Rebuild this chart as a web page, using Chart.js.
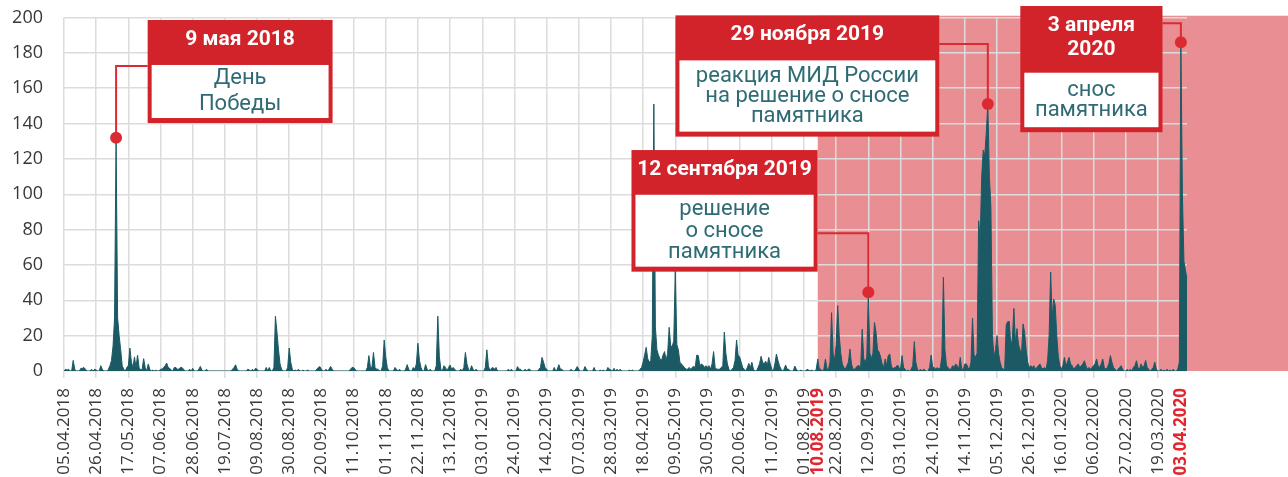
<!DOCTYPE html>
<html lang="ru">
<head>
<meta charset="utf-8">
<title>Упоминания памятника</title>
<script src="https://cdn.jsdelivr.net/npm/chart.js@4.4.1/dist/chart.umd.min.js"></script>
<style>
    html, body { margin: 0; padding: 0; background: #fff; }
    #chart { display: block; }
</style>
</head>
<body>
<canvas id="chart" width="1288" height="477"></canvas>
<script>
'use strict';

// ===== данные =====

const START_DATE = '2018-04-05';

// подписи оси X (каждые 21 день)
const TICK_LABELS = [
    '05.04.2018', '26.04.2018', '17.05.2018', '07.06.2018', '28.06.2018', '19.07.2018',
    '09.08.2018', '30.08.2018', '20.09.2018', '11.10.2018', '01.11.2018', '22.11.2018',
    '13.12.2018', '03.01.2019', '24.01.2019', '14.02.2019', '07.03.2019', '28.03.2019',
    '18.04.2019', '09.05.2019', '30.05.2019', '20.06.2019', '11.07.2019', '01.08.2019',
    '22.08.2019', '12.09.2019', '03.10.2019', '24.10.2019', '14.11.2019', '05.12.2019',
    '26.12.2019', '16.01.2020', '06.02.2020', '27.02.2020', '19.03.2020',
];

const HIGHLIGHT_LABELS = ['10.08.2019', '03.04.2020'];
const ZONE_START = '10.08.2019';

// значения по дням, одна строка = 21 день
const DAILY_VALUES = [
    0, 1, 0.5, 1, 0, 0, 6, 1, 0, 0, 0, 1.5, 1.5, 2, 1, 0, 0, 0, 1, 0, 1,
    0.5, 0, 0, 3, 1, 0, 0, 0, 1, 3, 6, 14, 30, 132, 30, 20, 12, 3, 1, 0, 2,
    3, 13, 5, 2, 8, 2, 9, 2, 0.5, 1, 7, 2, 0, 4, 1, 0, 0.5, 0, 0.5, 0, 0,
    1, 1, 2, 3, 4.5, 2, 1.5, 0.5, 0, 2, 2, 1, 1, 2, 2, 1, 0, 0, 0, 1, 0,
    1.5, 0, 0, 0, 1, 2.6, 0.5, 0, 0, 1, 0, 0, 0, 0, 0, 0, 0, 0, 0, 0, 0,
    0, 0, 0, 0, 0, 1, 2, 3.5, 1, 0, 0, 0, 0, 0, 0, 1, 0.5, 0, 1, 0, 1.5,
    1, 0, 0, 0, 0, 0, 2, 0, 2, 0, 0, 2, 31, 22, 12, 4, 1, 0, 0, 0, 2,
    13, 5, 1, 0, 0.5, 0, 1, 0, 0, 0.5, 0, 0, 0.5, 0, 0, 0, 0, 0, 1, 2, 2.5,
    1, 0, 0, 1, 0, 1, 2.6, 1, 0, 0, 0, 0, 0, 0, 0, 0, 0, 0, 0, 1, 2,
    2, 1, 0, 0, 0, 0, 0, 0, 0, 2, 8.7, 2, 2, 10.5, 2, 1, 1, 0, 0, 3, 17.5,
    8, 2, 0, 0, 0, 0, 2, 1, 0, 1, 0, 0, 0, 1, 3.6, 1, 0, 0, 2, 1, 4,
    15.7, 6, 2, 0, 0, 3.6, 1, 0, 1, 0, 0, 0, 3, 31, 8, 1, 0, 3, 2, 0, 2,
    3.4, 1, 2, 1, 0, 0, 0, 1, 0, 2, 10.5, 4, 1, 0, 3, 1, 0, 1, 0, 0, 0,
    0, 0, 2, 12, 3, 0, 1.5, 2, 1, 2, 0, 0, 0, 0, 0, 0, 0, 1, 0, 1, 0,
    0, 0, 2.5, 1, 1, 0, 0, 1, 0, 1, 1, 0, 0, 0, 0, 0, 1, 2, 7.7, 5, 2,
    1, 0, 0, 0, 0, 2, 0, 1, 3.6, 1, 1, 0, 0, 0, 0, 0, 1, 0, 0, 1, 2.5,
    1, 0, 0, 0, 2.5, 1, 0, 0, 0, 0, 2, 0, 0, 0, 0.5, 0, 0.5, 0, 0, 2, 1,
    0.5, 0, 1.5, 0, 1, 0, 1, 0, 0, 0, 0, 0, 0.5, 0, 0.5, 0, 0, 0, 0, 1, 2,
    5, 9, 13.4, 7, 5, 6, 20, 151, 25, 12, 9, 7, 6, 9, 11, 6, 10, 24.7, 14, 14, 17,
    58, 15, 12, 5, 4, 3, 2, 1, 1, 2, 1, 2, 2.6, 2, 9, 8.7, 3, 4, 3.4, 2, 3,
    2, 3, 1, 4, 11, 2, 1, 1, 1, 2, 3, 22, 10, 4, 1, 0, 1, 2, 6, 17.5, 9,
    8, 5, 2, 1, 0, 2, 4.3, 2, 4.9, 1, 0, 0, 2, 4, 8.3, 5, 4, 5.6, 3, 7.7, 4,
    1, 0, 4, 9.6, 6, 3, 1, 0, 1, 3.4, 1, 1, 0, 0, 0, 2.8, 1, 0, 0, 0.5, 0,
    0, 0, 1, 0.5, 0, 0.5, 0, 0, 1, 6.8, 1, 1, 0, 1, 6.8, 1, 1, 5, 33, 10, 6,
    15, 37, 20, 10, 4, 2, 1, 3, 5, 12.4, 4, 1, 1, 2, 3, 3, 2, 23.7, 7, 5, 8,
    44.6, 10, 7, 10, 27.5, 22, 12, 10.7, 8, 4, 2, 6.8, 3, 8.8, 9.6, 3, 1, 2, 2, 3.4, 2,
    1, 8.7, 2, 1, 0, 0.5, 0, 1, 3, 16.6, 5, 1, 0, 1, 0, 1, 0.5, 0, 0, 2, 9,
    2, 2, 1, 2, 1, 2, 8, 53, 12, 3, 2, 1, 1, 3, 2, 4, 3, 1, 7.7, 1, 1,
    4, 4, 2, 1, 5, 30, 9, 8, 10, 85, 75, 110, 125, 122, 135, 151, 110, 93, 20, 8, 12,
    20, 10, 5, 2, 1, 1, 26, 28, 28, 14, 18, 35.4, 16, 24, 15, 12, 10, 26.6, 22, 12, 5,
    2, 3, 2, 3, 1, 2, 3, 4, 2, 1, 2, 1, 5.8, 20, 56, 30, 40.7, 37, 20, 8, 3,
    1, 3, 7.7, 3, 5, 7.7, 4, 3, 1, 2, 3, 4, 2, 3, 4, 5.8, 3, 1, 2, 1, 2,
    3, 4, 6.8, 3, 2, 4, 6.8, 2, 1, 2, 4, 8.7, 5, 2, 1, 0, 1, 2, 3, 1, 0,
    0, 1, 0, 1, 0, 2, 3, 5.8, 2, 1, 4, 2, 3, 6, 2, 1, 0, 1, 2, 5, 1,
    0, 0, 1, 0, 0.5, 0, 1, 0, 0.5, 0, 1, 0, 0, 1, 5, 186, 100, 62, 57, 52,
];

// выноски
const NOTE_DATES  = ['09.05.2018', '29.11.2019', '12.09.2019', '03.04.2020'];
const NOTE_TITLES = [['9 мая 2018'], ['29 ноября 2019'], ['12 сентября 2019'], ['3 апреля', '2020']];
const NOTE_TEXTS  = [
    ['День', 'Победы'],
    ['реакция МИД России', 'на решение о сносе', 'памятника'],
    ['решение', 'о сносе', 'памятника'],
    ['снос', 'памятника'],
];

// ===== оформление =====

const TEAL      = '#1b5a65';
const TEXT_TEAL = '#2f6b74';
const RED       = '#d2232b';
const DOT_RED   = '#dc2a33';
const PINK      = '#e98e92';
const GRID      = '#dcdcdc';
const LABEL     = '#383838';
const CLEAR     = 'rgba(0,0,0,0)';

// рамки выносок в единицах осей (день / значение)
const NOTE_LAYOUT = [
    { left: 54.6,  right: 175.3, top: 198.6, bottom: 140.3, elbow: 172.6, headH: 43,   lineH: 26,   titleH: 24 },
    { left: 399.1, right: 571.3, top: 201.2, bottom: 132.6, elbow: 185.0, headH: 43,   lineH: 20,   titleH: 24 },
    { left: 370.4, right: 491.9, top: 125.0, bottom: 56.2,  elbow: 77.9,  headH: 42.7, lineH: 21.7, titleH: 24 },
    { left: 624.2, right: 717.0, top: 206.5, bottom: 135.1, elbow: 196.7, headH: 64.7, lineH: 20,   titleH: 24.3 },
];

// ===== подписи дней =====

function buildDayLabels(startIso, count) {
    const pad = n => String(n).padStart(2, '0');
    const start = new Date(startIso + 'T00:00:00Z');
    const out = [];
    for (let i = 0; i < count; i++) {
        const d = new Date(start.getTime() + i * 86400000);
        out.push(`${pad(d.getUTCDate())}.${pad(d.getUTCMonth() + 1)}.${d.getUTCFullYear()}`);
    }
    return out;
}

const DAY_LABELS = buildDayLabels(START_DATE, DAILY_VALUES.length);

const isTick      = lbl => TICK_LABELS.includes(lbl);
const isHighlight = lbl => HIGHLIGHT_LABELS.includes(lbl);
const tickLabel   = c => (c.tick ? c.tick.label : null);

// ===== плагины =====

const pinkZone = {
    id: 'pinkZone',
    beforeDraw(chart) {
        const { ctx, scales: { x, y } } = chart;
        const left   = x.getPixelForValue(DAY_LABELS.indexOf(ZONE_START));
        const top    = y.getPixelForValue(201);
        const bottom = y.getPixelForValue(0);
        ctx.save();
        ctx.fillStyle = PINK;
        ctx.fillRect(left, top, chart.width - left, bottom - top);
        ctx.restore();
    },
};

const callouts = {
    id: 'callouts',
    afterDraw(chart) {
        const { ctx, scales: { x, y } } = chart;
        ctx.save();
        NOTE_DATES.forEach((date, n) => {
            const lay = NOTE_LAYOUT[n];
            const i   = DAY_LABELS.indexOf(date);
            const px  = x.getPixelForValue(i);
            const py  = y.getPixelForValue(DAILY_VALUES[i]);
            const bl  = x.getPixelForValue(lay.left);
            const br  = x.getPixelForValue(lay.right);
            const bt  = y.getPixelForValue(lay.top);
            const bb  = y.getPixelForValue(lay.bottom);
            const ey  = y.getPixelForValue(lay.elbow);
            const edgeX = px < bl ? bl : br;

            // линия
            ctx.strokeStyle = DOT_RED;
            ctx.lineWidth = 2;
            ctx.beginPath();
            ctx.moveTo(px, py);
            ctx.lineTo(px, ey);
            ctx.lineTo(edgeX, ey);
            ctx.stroke();

            // рамка
            ctx.fillStyle = RED;
            ctx.fillRect(bl, bt, br - bl, bb - bt);
            const wTop = bt + lay.headH + 2;
            ctx.fillStyle = '#fff';
            ctx.fillRect(bl + 4, wTop, br - bl - 8, bb - 5 - wTop);

            const cx = (bl + br) / 2;
            ctx.textAlign = 'center';
            ctx.textBaseline = 'alphabetic';

            // заголовок
            ctx.fillStyle = '#fff';
            ctx.font = 'bold 21px Roboto';
            NOTE_TITLES[n].forEach((line, k) => {
                ctx.fillText(line, cx, bt + 25 + k * lay.titleH);
            });

            // текст
            const lines = NOTE_TEXTS[n];
            const mid = (wTop + bb - 5) / 2;
            const first = mid - (lines.length - 1) * lay.lineH / 2 + 6;
            ctx.fillStyle = TEXT_TEAL;
            ctx.font = '22px Roboto';
            lines.forEach((line, k) => {
                ctx.fillText(line, cx, first + k * lay.lineH);
            });

            // точка
            ctx.fillStyle = DOT_RED;
            ctx.beginPath();
            ctx.arc(px, py, 6, 0, Math.PI * 2);
            ctx.fill();
        });
        ctx.restore();
    },
};

// ===== график =====

const ctx = document.getElementById('chart').getContext('2d');
new Chart(ctx, {
    type: 'line',
    data: {
        labels: DAY_LABELS,
        datasets: [{
            data: DAILY_VALUES,
            fill: 'origin',
            backgroundColor: TEAL,
            borderColor: TEAL,
            borderWidth: 1,
            pointRadius: 0,
            tension: 0,
        }],
    },
    options: {
        responsive: false,
        animation: false,
        devicePixelRatio: 1,
        layout: { padding: { top: 17.5, right: 101, left: 0, bottom: 0 } },
        plugins: {
            legend:  { display: false },
            tooltip: { enabled: false },
        },
        scales: {
            x: {
                type: 'category',
                offset: false,
                border: { display: false },
                grid: {
                    color: c => isTick(tickLabel(c)) ? GRID : CLEAR,
                    lineWidth: 1.5,
                    tickLength: 7,
                },
                ticks: {
                    autoSkip: false,
                    minRotation: 90,
                    maxRotation: 90,
                    padding: 10,
                    font: c => ({
                        family: 'Open Sans',
                        size: 17,
                        weight: isHighlight(tickLabel(c)) ? 'bold' : 'normal',
                    }),
                    color: c => isHighlight(tickLabel(c)) ? '#e2262f' : LABEL,
                    callback: (val) => {
                        const lbl = DAY_LABELS[val];
                        return (isTick(lbl) || isHighlight(lbl)) ? lbl : null;
                    },
                },
                afterFit: scale => { scale.height = 106; },
            },
            y: {
                min: 0,
                max: 200,
                border: { display: false },
                grid: { color: GRID, lineWidth: 1.5, drawTicks: false },
                ticks: {
                    stepSize: 20,
                    padding: 21,
                    color: LABEL,
                    font: { family: 'Open Sans', size: 18 },
                },
                afterFit: scale => {
                    scale.width = 64;
                    scale.paddingTop = 0;
                    scale.paddingBottom = 0;
                },
            },
        },
    },
    plugins: [pinkZone, callouts],
});
</script>
</body>
</html>
